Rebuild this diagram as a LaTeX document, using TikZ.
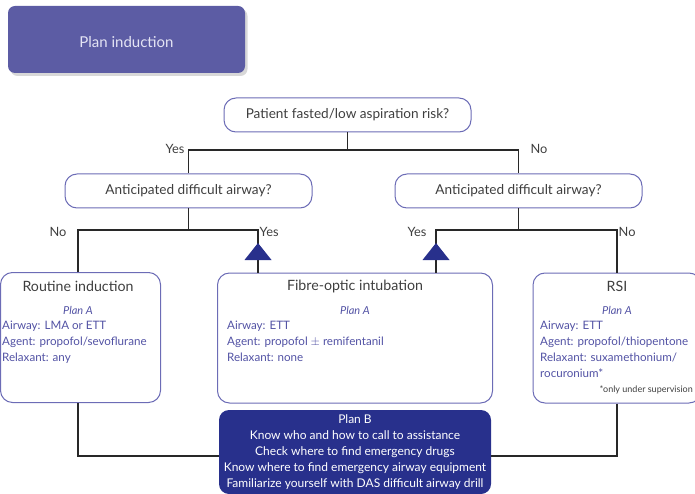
\documentclass[tikz,border=0pt]{standalone}
\usepackage{fontspec}
\setmainfont{Lato}
\usetikzlibrary{shadows}

\definecolor{headfill}{RGB}{92,92,164}
\definecolor{headtext}{RGB}{228,228,244}
\definecolor{outline}{RGB}{108,108,182}
\definecolor{deepblue}{RGB}{40,48,140}
\definecolor{bodyblue}{RGB}{82,82,164}
\definecolor{titlegray}{RGB}{62,62,62}
\definecolor{wire}{RGB}{40,40,40}

\tikzset{
  headbox/.style={fill=headfill, rounded corners=7pt, text=headtext,
    font=\fontsize{15}{17}\selectfont,
    drop shadow={shadow xshift=2.5pt, shadow yshift=-3pt, fill=black!30}},
  question/.style={draw=outline, line width=1pt, rounded corners=12pt,
    minimum width=247pt, minimum height=34pt, text=titlegray,
    font=\fontsize{13.6}{16}\selectfont},
  planbox/.style={draw=outline, line width=1pt, rounded corners=12pt,
    inner sep=0pt},
  plantitle/.style={text=titlegray, font=\fontsize{14.2}{17}\selectfont, inner sep=0pt},
  planlabel/.style={text=bodyblue, font=\fontsize{11}{13}\selectfont\itshape, inner sep=0pt},
  planbody/.style={text=bodyblue, font=\fontsize{11.6}{16}\selectfont, align=left,
    inner sep=0pt, anchor=north west},
  backup/.style={fill=deepblue, rounded corners=10pt, text=white, align=center,
    font=\fontsize{12}{16}\selectfont, inner sep=0pt},
  wire/.style={draw=wire, line width=1.2pt},
  answer/.style={text=titlegray, font=\fontsize{12.8}{15}\selectfont, inner sep=1pt},
  tip/.style={fill=deepblue}
}

\begin{document}
\begin{tikzpicture}[x=1pt,y=-1pt]
\useasboundingbox (0,0) rectangle (695,494);

% header
\node[headbox, minimum width=237pt, minimum height=67pt] (head) at (126.5,39.5) {};
\node[text=headtext, font=\fontsize{15}{17}\selectfont, inner sep=0pt] (headtitle) at (126.5,42.5) {Plan induction};

% questions
\node[question] (q0) at (347.5,115) {Patient fasted/low aspiration risk?};
\node[question] (q1) at (188.5,191) {Anticipated difficult airway?};
\node[question] (q2) at (518.5,191) {Anticipated difficult airway?};

% plan A boxes
\node[planbox, minimum width=160pt, minimum height=130pt] (routine) at (80.5,337.5) {};
\node[planbox, minimum width=275pt, minimum height=130pt] (fibre) at (355,338) {};
\node[planbox, minimum width=168pt, minimum height=130pt] (rsi) at (617,338) {};

% plan B box
\node[backup, minimum width=272pt, minimum height=84pt] (planb) at (355,452) {};
\node[backup, fill=none, anchor=north] (planbtext) at (355,414)
  {Plan B\\Know who and how to call to assistance\\Check where to find emergency drugs\\
   Know where to find emergency airway equipment\\Familiarize yourself with DAS difficult airway drill};

% box contents
\node[plantitle] (t1) at (78,286) {Routine induction};
\node[planlabel] (a1) at (78,310) {Plan A};
\node[planbody] (b1) at (2,321) {Airway: LMA or ETT\\Agent: propofol/sevoflurane\\Relaxant: any};

\node[plantitle] (t2) at (355,286) {Fibre-optic intubation};
\node[planlabel] (a2) at (355,310) {Plan A};
\node[planbody] (b2) at (227,321) {Airway: ETT\\Agent: propofol $\pm$ remifentanil\\Relaxant: none};

\node[plantitle] (t3) at (617,286) {RSI};
\node[planlabel] (a3) at (617,310) {Plan A};
\node[planbody] (b3) at (540,321) {Airway: ETT\\Agent: propofol/thiopentone\\Relaxant: suxamethonium/\\rocuronium*};
\node[text=titlegray, font=\fontsize{9}{10}\selectfont, inner sep=0pt, anchor=east] (fn) at (693,390) {*only under supervision};

% junction points
\coordinate (j0) at (347.5,150);
\coordinate (jl) at (78,230);
\coordinate (jm1) at (258,230);
\coordinate (jm2) at (436,230);
\coordinate (jr) at (617,230);

% connectors
\draw[wire] (q0.south) -- (j0);
\draw[wire] (q1.north) -- (q1.north |- j0) -- (q2.north |- j0) -- (q2.north);
\draw[wire] (q1.south) -- (q1.south |- jl);
\draw[wire] (routine.north -| jl) -- (jl) -- (jm1) -- (fibre.north -| jm1);
\draw[wire] (q2.south) -- (q2.south |- jr);
\draw[wire] (fibre.north -| jm2) -- (jm2) -- (jr) -- (rsi.north -| jr);
\draw[wire] (routine.south -| jl) |- ([yshift=-4pt]planb.west);
\draw[wire] (rsi.south -| jr) |- ([yshift=-4pt]planb.east);

% arrow heads on the Yes branches
\fill[tip] (258,243) -- (271.5,260) -- (244.5,260) -- cycle;
\fill[tip] (436,243) -- (449.5,260) -- (422.5,260) -- cycle;

% branch labels
\node[answer] (y0) at (175,149) {Yes};
\node[answer] (n0) at (539,149) {No};
\node[answer] (n1) at (58,232) {No};
\node[answer, anchor=west] (y1) at (258.5,232) {Yes};
\node[answer] (y2) at (417,232) {Yes};
\node[answer, anchor=west] (n2) at (617.5,232) {No};
\end{tikzpicture}
\end{document}
